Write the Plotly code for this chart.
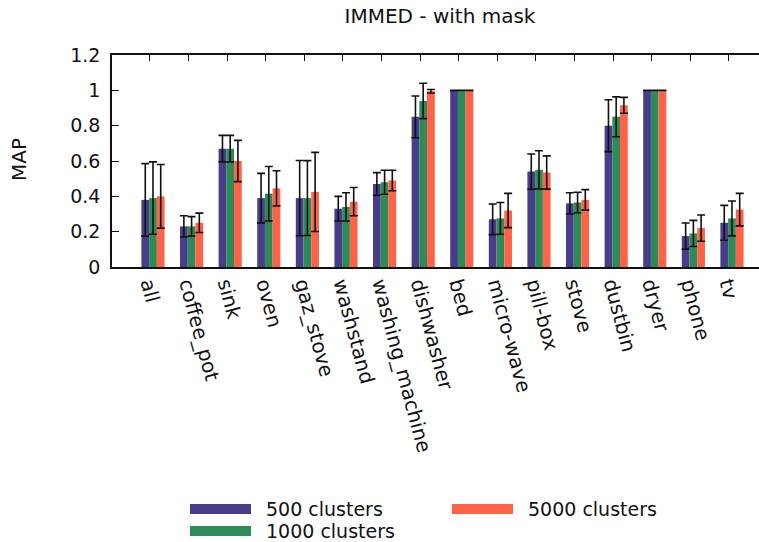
import plotly.graph_objects as go

categories = ["all", "coffee_pot", "sink", "oven", "gaz_stove", "washstand",
              "washing_machine", "dishwasher", "bed", "micro-wave", "pill-box",
              "stove", "dustbin", "dryer", "phone", "tv"]

series_names = ["500 clusters", "1000 clusters", "5000 clusters"]

map_500 = [0.38, 0.23, 0.67, 0.39, 0.39, 0.33, 0.47, 0.85, 1.00, 0.27, 0.54, 0.36, 0.80, 1.00, 0.175, 0.25]
map_1000 = [0.39, 0.23, 0.67, 0.415, 0.39, 0.34, 0.48, 0.94, 1.00, 0.275, 0.55, 0.365, 0.85, 1.00, 0.19, 0.275]
map_5000 = [0.40, 0.25, 0.60, 0.445, 0.425, 0.37, 0.49, 0.995, 1.00, 0.32, 0.535, 0.38, 0.915, 1.00, 0.22, 0.325]

err_500 = [0.205, 0.06, 0.075, 0.14, 0.213, 0.07, 0.064, 0.118, 0.0, 0.087, 0.10, 0.06, 0.147, 0.0, 0.074, 0.099]
err_1000 = [0.205, 0.055, 0.075, 0.154, 0.212, 0.08, 0.068, 0.10, 0.0, 0.09, 0.108, 0.058, 0.113, 0.0, 0.074, 0.099]
err_5000 = [0.18, 0.055, 0.117, 0.10, 0.224, 0.08, 0.058, 0.01, 0.0, 0.097, 0.094, 0.058, 0.045, 0.0, 0.074, 0.092]

y_ticks = [0, 0.2, 0.4, 0.6, 0.8, 1, 1.2]

colors = ["#483D8B", "#2E8B57", "#FF6347"]
values = [map_500, map_1000, map_5000]
errors = [err_500, err_1000, err_5000]

FONT = "DejaVu Sans, Liberation Sans, Arial, sans-serif"
INK = "#111111"
W, H = 759, 542
L, R, T, B = 112, 0, 55, 275
PW = W - L - R
PH = H - T - B

xpos = list(range(len(categories)))
tick_shift = -0.078
tickpos = [i + tick_shift for i in xpos]
xrange = [-1.062, 15.70]


def px_x(p):
    return (p - L) / PW


def px_y(p):
    return (H - B - p) / PH


fig = go.Figure()
for name, vals, errs, col in zip(series_names, values, errors, colors):
    fig.add_trace(go.Bar(
        x=xpos, y=vals, name=name, marker=dict(color=col, line=dict(width=0)),
        error_y=dict(type="data", array=errs, visible=True, color=INK,
                     thickness=1.6, width=4),
        showlegend=False,
    ))

# invisible trace so the top tick axis is drawn
fig.add_trace(go.Scatter(x=xpos, y=[None] * len(xpos), xaxis="x2", yaxis="y",
                         showlegend=False, hoverinfo="skip"))

fig.update_layout(
    width=W, height=H,
    margin=dict(l=L, r=R, t=T, b=B, autoexpand=False),
    plot_bgcolor="white", paper_bgcolor="white",
    barmode="group", bargap=0.4, bargroupgap=0.0,
    font=dict(family=FONT, color=INK),
    title=dict(text="IMMED - with mask", x=px_x(440), xref="paper", xanchor="center",
               y=1 - 16 / H, yref="container", yanchor="middle",
               font=dict(size=20, family=FONT, color=INK)),
    xaxis=dict(range=xrange, tickmode="array", tickvals=tickpos, ticktext=categories,
               tickangle=75, ticks="", showline=True, linecolor=INK, linewidth=1.5,
               mirror=True, showgrid=False, zeroline=False, automargin=False,
               tickfont=dict(size=20, family=FONT, color=INK), ticklabelstandoff=-4),
    xaxis2=dict(range=xrange, overlaying="x", side="top", anchor="y", tickmode="array",
                tickvals=tickpos, ticks="inside", ticklen=6, tickwidth=1.2, tickcolor=INK,
                showticklabels=False, showline=False, showgrid=False, zeroline=False),
    yaxis=dict(range=[0, 1.2], tickmode="array", tickvals=y_ticks, ticks="inside", ticklen=7,
               tickwidth=1.2, tickcolor=INK, showline=True, linecolor=INK,
               linewidth=1.5, mirror=False, showgrid=False, zeroline=False, automargin=False,
               tickfont=dict(size=19, family=FONT, color=INK), ticklabelstandoff=6),
)

fig.add_annotation(text="MAP", textangle=-90, xref="paper", yref="paper",
                   x=px_x(19), y=px_y(160), xanchor="center", yanchor="middle",
                   showarrow=False, font=dict(size=20, family=FONT, color=INK))

# legend (two columns, wide swatches)
legend_items = [
    (0, 190, 509),
    (1, 190, 531),
    (2, 452, 509),
]
for idx, sx, sy in legend_items:
    fig.add_shape(type="rect", xref="paper", yref="paper",
                  x0=px_x(sx), x1=px_x(sx + 61), y0=px_y(sy + 5), y1=px_y(sy - 5),
                  fillcolor=colors[idx], line=dict(width=0))
    fig.add_annotation(text=series_names[idx], xref="paper", yref="paper",
                       x=px_x(sx + 75), y=px_y(sy), xanchor="left",
                       yanchor="middle", showarrow=False, borderpad=0,
                       font=dict(size=19, family=FONT, color=INK))

fig.write_html("out.html", config={"displayModeBar": False},
               post_script="document.body.style.margin='0px';")
